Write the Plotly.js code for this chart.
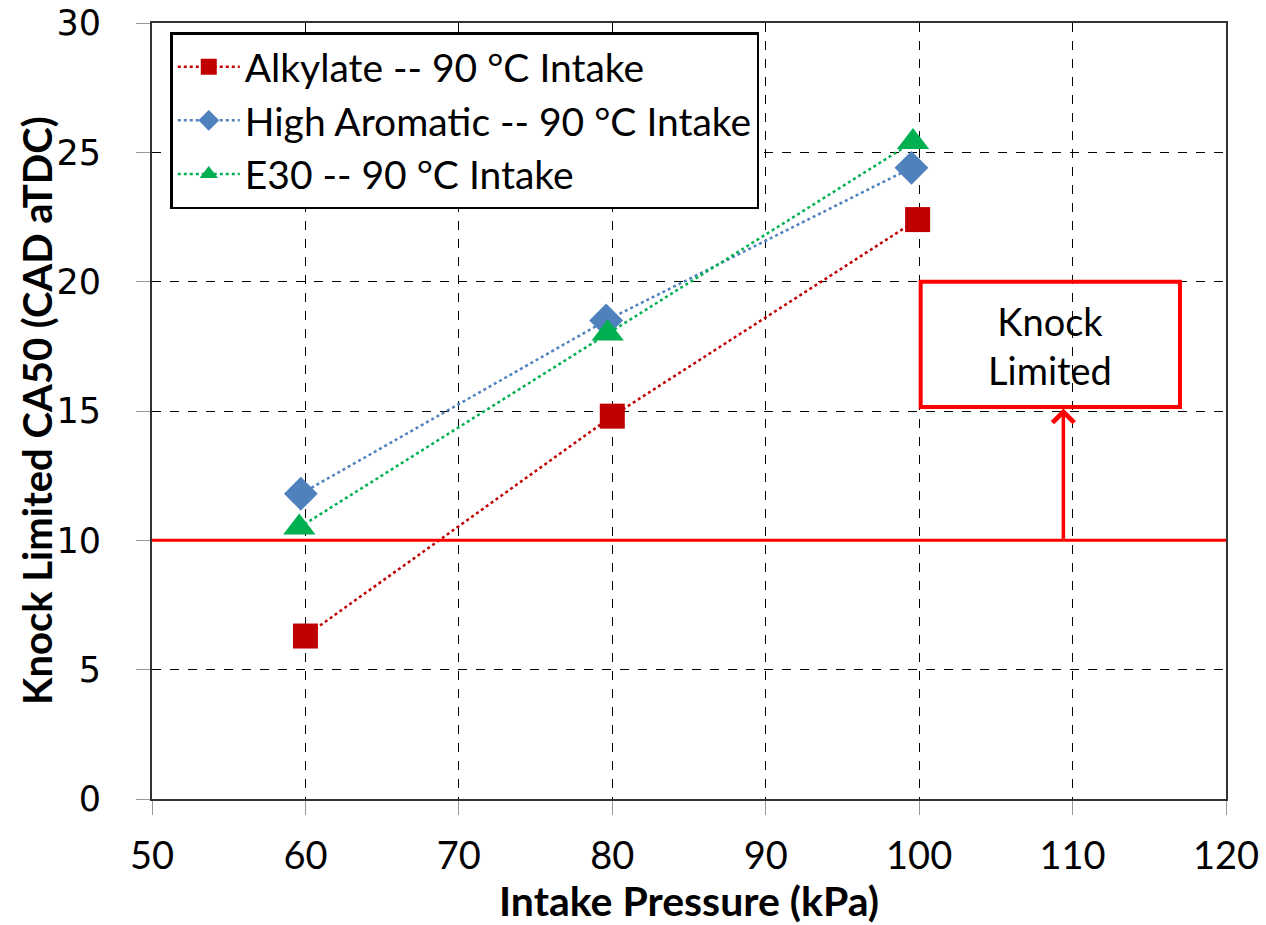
<!DOCTYPE html>
<html>
<head>
<meta charset="utf-8">
<script src="https://cdn.plot.ly/plotly-3.0.1.min.js"></script>
<style>html,body{margin:0;padding:0;background:#fff;}#chart{width:1266px;height:925px;}</style>
</head>
<body>
<div id="chart"></div>
<script>
const seriesNames = ["Alkylate -- 90 °C Intake", "High Aromatic -- 90 °C Intake", "E30 -- 90 °C Intake"];
const alkylateX = [60.0, 80.0, 99.9];
const alkylateY = [6.3, 14.8, 22.4];
const aromaticX = [59.7, 79.6, 99.5];
const aromaticY = [11.8, 18.5, 24.4];
const e30X = [59.6, 79.7, 99.6];
const e30Y = [10.5, 18.0, 25.4];
const knockLimit = 10;
const knockLabel = "Knock<br>Limited";
const xTitle = "Intake Pressure (kPa)";
const yTitle = "Knock Limited CA50 (CAD aTDC)";
const xTicks = [50, 60, 70, 80, 90, 100, 110, 120];
const yTicks = [0, 5, 10, 15, 20, 25, 30];

const font = "Lato, 'Open Sans', sans-serif";

function trace(name, x, y, color, symbol, size) {
  return {
    type: "scatter", mode: "lines+markers", name: name, x: x, y: y,
    line: {color: color, width: 2.5, dash: "dot"},
    marker: {color: color, symbol: symbol, size: size}
  };
}

const data = [
  trace(seriesNames[0], alkylateX, alkylateY, "#C00000", "square", 25),
  trace(seriesNames[1], aromaticX, aromaticY, "#4F81BD", "diamond", 26),
  trace(seriesNames[2], e30X, e30Y, "#00B050", "triangle-up", 28)
];

const layout = {
  width: 1266, height: 925,
  margin: {l: 152, r: 40, t: 23, b: 126},
  paper_bgcolor: "#fff", plot_bgcolor: "#fff",
  showlegend: true,
  legend: {
    x: 0.017, y: 0.988, xanchor: "left", yanchor: "top",
    bordercolor: "#000", borderwidth: 2.5, bgcolor: "#fff",
    font: {family: font, size: 39, color: "#000"},
    tracegroupgap: 0, itemwidth: 62
  },
  xaxis: {
    range: [50, 120], tickvals: xTicks, ticktext: xTicks.map(String),
    showgrid: true, gridcolor: "#000", griddash: "dash", gridwidth: 1,
    showline: true, linecolor: "#333", linewidth: 2, mirror: true,
    ticks: "outside", ticklen: 14, tickcolor: "#999", tickwidth: 1,
    ticklabelstandoff: 8,
    zeroline: false,
    tickfont: {family: font, size: 38, color: "#000"}
  },
  yaxis: {
    range: [0, 30], tickvals: yTicks, ticktext: yTicks.map(String),
    showgrid: true, gridcolor: "#000", griddash: "dash", gridwidth: 1,
    showline: true, linecolor: "#333", linewidth: 2, mirror: true,
    ticks: "outside", ticklen: 14, tickcolor: "#999", tickwidth: 1,
    ticklabelstandoff: 28,
    zeroline: false,
    tickfont: {family: "'DejaVu Sans', sans-serif", size: 35, color: "#000"}
  },
  shapes: [
    {type: "line", xref: "paper", yref: "y", x0: 0, x1: 1, y0: knockLimit, y1: knockLimit,
     line: {color: "#FF0000", width: 3}},
    {type: "rect", xref: "x", yref: "y", x0: 100.1, x1: 117.0, y0: 15.15, y1: 20.0,
     line: {color: "#FF0000", width: 4}, fillcolor: "rgba(255,255,255,0)"}
  ],
  annotations: [
    {xref: "x", yref: "y", x: 108.5, y: 17.55, text: knockLabel, showarrow: false,
     font: {family: font, size: 38, color: "#000"}, align: "center"},
    {xref: "x", yref: "y", x: 109.4, y: 15.1, axref: "x", ayref: "y", ax: 109.4, ay: knockLimit,
     text: "", showarrow: true, arrowhead: 4, arrowsize: 1.2, arrowwidth: 3.5, arrowcolor: "#FF0000", standoff: 0},
    {xref: "paper", yref: "paper", x: 0.5, y: 0, xanchor: "center", yanchor: "middle", yshift: -101,
     text: "<b>" + xTitle + "</b>", showarrow: false, font: {family: font, size: 41, color: "#000"}},
    {xref: "paper", yref: "paper", x: 0, y: 0.5, xanchor: "center", yanchor: "middle", xshift: -115,
     textangle: -90, text: "<b>" + yTitle + "</b>", showarrow: false, font: {family: font, size: 40, color: "#000"}}
  ]
};

Plotly.newPlot("chart", data, layout, {displayModeBar: false, staticPlot: true});
</script>
</body>
</html>
